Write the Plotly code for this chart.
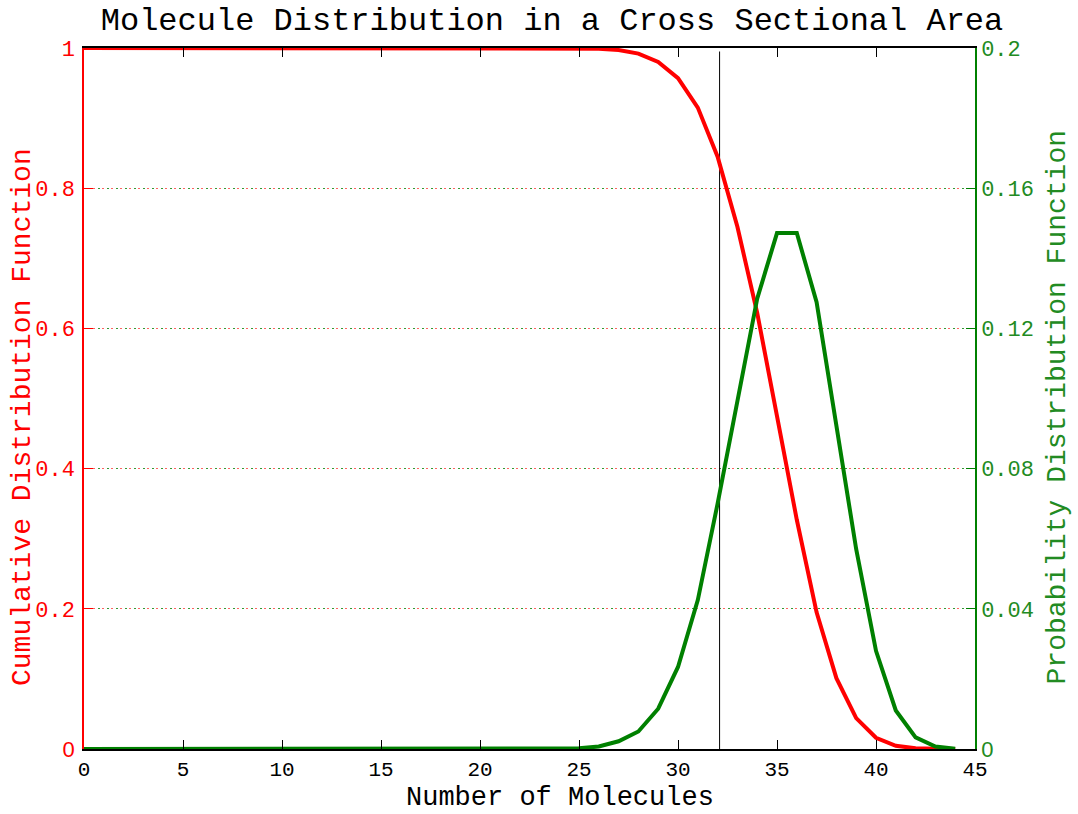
import plotly.graph_objects as go

molecules = list(range(0, 45))
cdf = [1.0] * 25 + [0.9997, 0.999, 0.997, 0.992, 0.980, 0.957, 0.915, 0.845, 0.745,
                    0.622, 0.475, 0.327, 0.195, 0.101, 0.044, 0.016, 0.0045, 0.001,
                    0.0002, 0.0]
pdf = [0.0] * 24 + [0.00005, 0.0002, 0.0007, 0.0022, 0.005, 0.0115, 0.0234, 0.0425,
                    0.070, 0.100, 0.1285, 0.1472, 0.1472, 0.1275, 0.092, 0.057,
                    0.028, 0.011, 0.0033, 0.0007, 0.0001]
marker_x = [32.1, 32.1]
marker_y = [0.0, 0.995]

x_ticks = [0, 5, 10, 15, 20, 25, 30, 35, 40, 45]
y1_ticks = [0, 0.2, 0.4, 0.6, 0.8, 1]
y1_text = ["<span style='font-family:Liberation Sans'>0</span>", "0.2", "0.4", "0.6", "0.8", "1"]
y2_ticks = [0, 0.04, 0.08, 0.12, 0.16, 0.2]
y2_text = ["<span style='font-family:Liberation Sans'>0</span>", "0.04", "0.08", "0.12", "0.16", "0.2"]

FONT = "Liberation Mono, Courier New, monospace"
RED = "#ff0000"
GREEN = "#008000"
LABEL_GREEN = "#228b22"

fig = go.Figure()
fig.add_trace(go.Scatter(x=marker_x, y=marker_y, mode="lines",
                         line=dict(color="black", width=1), showlegend=False))
fig.add_trace(go.Scatter(x=molecules, y=cdf, mode="lines",
                         line=dict(color=RED, width=4), showlegend=False))
fig.add_trace(go.Scatter(x=molecules, y=pdf, mode="lines", yaxis="y2",
                         line=dict(color=GREEN, width=4), showlegend=False))

fig.update_layout(
    width=1078, height=814,
    paper_bgcolor="white", plot_bgcolor="white",
    margin=dict(l=84, r=103, t=48, b=65, autoexpand=False),
    font=dict(family=FONT, size=22, color="black"),
    title=dict(text="Molecule Distribution in a Cross Sectional Area",
               x=552 / 1078, xanchor="center", xref="container",
               y=1 - 19 / 814, yanchor="middle", yref="container",
               font=dict(family=FONT, size=32, color="black")),
    xaxis=dict(range=[0, 45], tickvals=x_ticks, ticks="inside", ticklen=9,
               tickcolor="black", showline=True, linecolor="black", linewidth=1.5,
               mirror="ticks", showgrid=False, zeroline=False, ticklabelstandoff=0,
               automargin=False,
               tickfont=dict(family=FONT, size=21, color="black")),
    yaxis=dict(range=[0, 1], tickvals=y1_ticks, ticktext=y1_text, ticks="inside",
               ticklen=9, tickcolor=RED, showline=True, linecolor=RED, linewidth=1.5,
               showgrid=True, gridcolor="rgba(255,60,60,0.8)", griddash="2px,7px",
               gridwidth=1, zeroline=False, ticklabelstandoff=3, automargin=False,
               tickfont=dict(family=FONT, size=22, color=RED)),
    yaxis2=dict(range=[0, 0.2], tickvals=y2_ticks, ticktext=y2_text, overlaying="y",
                side="right", ticks="inside", ticklen=9, tickcolor=GREEN,
                showline=True, linecolor=GREEN, linewidth=1.5, automargin=False,
                showgrid=True, gridcolor="rgba(0,128,0,0.8)",
                griddash="0px,4.5px,2px,2.5px", gridwidth=1, zeroline=False,
                tickfont=dict(family=FONT, size=22, color=LABEL_GREEN)),
    annotations=[
        dict(text="Number of Molecules", xref="paper", yref="paper",
             x=(559.6 - 84) / 891, y=0, xanchor="center", yanchor="middle",
             yshift=-48.5, showarrow=False,
             font=dict(family=FONT, size=27, color="black")),
        dict(text="Cumulative Distribution Function", xref="paper", yref="paper",
             x=0, y=0.4736, xanchor="center", yanchor="middle", xshift=-62,
             textangle=-90, showarrow=False,
             font=dict(family=FONT, size=28, color=RED)),
        dict(text="Probability Distribution Function", xref="paper", yref="paper",
             x=1, y=0.4872, xanchor="center", yanchor="middle", xshift=82,
             textangle=-90, showarrow=False,
             font=dict(family=FONT, size=28, color=LABEL_GREEN)),
    ],
)

fig.write_html("out.html", config={"displayModeBar": False},
               post_script="document.body.style.margin='0';document.body.style.padding='0';")
